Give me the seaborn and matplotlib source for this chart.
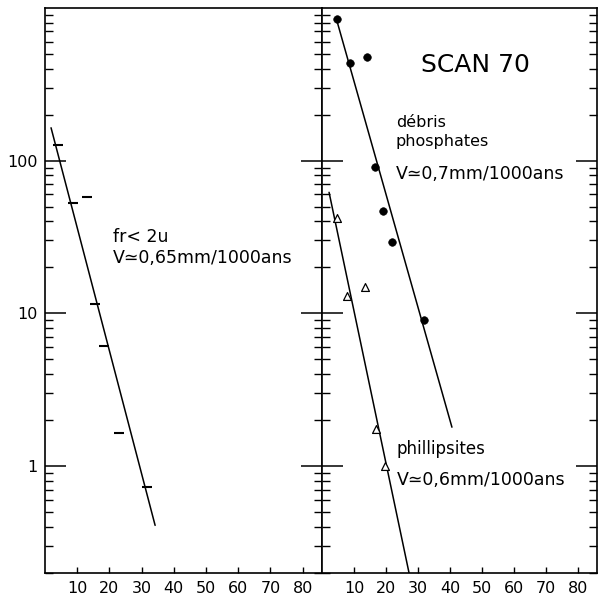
import matplotlib
matplotlib.use("Agg")
import matplotlib.pyplot as plt
import seaborn as sns
from matplotlib.ticker import FixedLocator, LogLocator, NullFormatter, NullLocator

# left panel: fraction < 2u (horizontal dashes)
fine_depth = [4.0, 8.7, 13.0, 15.5, 18.3, 23.0, 31.7]
fine_activity = [127, 53, 58, 11.6, 6.1, 1.66, 0.73]
fine_fit_depth = [1.9, 34.2]
fine_fit_activity = [164, 0.41]

# right panel: debris phosphates (filled dots)
phos_depth = [4.7, 8.7, 14.1, 16.6, 19.1, 21.9, 31.9]
phos_activity = [851, 432, 473, 91, 47, 29.4, 9.0]
phos_fit_depth = [4.7, 40.6]
phos_fit_activity = [815, 1.8]

# right panel: phillipsites (open triangles)
phil_depth = [4.7, 7.8, 13.4, 16.9, 19.7]
phil_activity = [42, 13, 14.8, 1.75, 1.0]
phil_fit_depth = [2.2, 27.2]
phil_fit_activity = [62, 0.2]

x_ticks = [10, 20, 30, 40, 50, 60, 70, 80]
y_ticks = [1, 10, 100]
y_labels = ["1", "10", "100"]

sns.set_style("ticks")
plt.rcParams["font.family"] = ["DejaVu Sans"]
plt.rcParams["text.color"] = "black"
plt.rcParams["xtick.color"] = "black"
plt.rcParams["ytick.color"] = "black"
plt.rcParams["axes.labelcolor"] = "black"

fig = plt.figure(figsize=(5.99, 6.0), dpi=100)
ax_l = fig.add_axes([0.075, 0.045, 0.4626, 0.942])
ax_r = fig.add_axes([0.5376, 0.045, 0.4594, 0.942])

for ax in (ax_l, ax_r):
    ax.set_yscale("log")
    ax.set_ylim(0.2, 1000)
    ax.set_xlim(0, 86)
    for sp in ax.spines.values():
        sp.set_visible(True)
        sp.set_linewidth(1.2)
        sp.set_color("black")
    ax.yaxis.set_major_locator(FixedLocator(y_ticks))
    ax.yaxis.set_minor_locator(LogLocator(base=10, subs=range(2, 10)))
    ax.yaxis.set_minor_formatter(NullFormatter())
    ax.set_xticks(x_ticks)
    ax.set_xticklabels([str(t) for t in x_ticks])
    ax.xaxis.set_minor_locator(NullLocator())
    ax.tick_params(axis="y", which="both", direction="in", left=True, right=True, color="black")
    ax.tick_params(axis="y", which="major", length=15, width=1.1, pad=5)
    ax.tick_params(axis="y", which="minor", length=6, width=1.0)
    ax.tick_params(axis="x", which="major", direction="in", length=4, width=1.0,
                   bottom=True, top=False, pad=6, labelsize=11.5, labelcolor="black")
    ax.tick_params(axis="y", labelsize=11.5, labelcolor="black")
    ax.set_xlabel("")
    ax.set_ylabel("")

ax_l.set_yticklabels(y_labels)
ax_r.tick_params(axis="y", which="both", labelleft=False)

# left panel
sns.lineplot(x=fine_fit_depth, y=fine_fit_activity, color="black", linewidth=1.1, ax=ax_l)
sns.scatterplot(x=fine_depth, y=fine_activity, marker="_", s=55, linewidth=1.5,
                color="black", ax=ax_l)
ax_l.text(21.0, 29.5, "fr< 2u", fontsize=12.5, va="baseline")
ax_l.text(21.0, 21.3, "V\u22430,65mm/1000ans", fontsize=12.5, va="baseline")

# right panel
sns.lineplot(x=phos_fit_depth, y=phos_fit_activity, color="black", linewidth=1.1, ax=ax_r)
sns.lineplot(x=phil_fit_depth, y=phil_fit_activity, color="black", linewidth=1.1, ax=ax_r)
sns.scatterplot(x=phos_depth, y=phos_activity, marker="o", s=30, color="black",
                edgecolor="black", ax=ax_r)
sns.scatterplot(x=phil_depth, y=phil_activity, marker="^", s=32, color="white",
                edgecolor="black", linewidth=0.9, ax=ax_r, zorder=3)
ax_r.text(30.9, 380, "SCAN 70", fontsize=18, va="baseline")
ax_r.text(23.1, 167, "débris", fontsize=11.5, va="baseline")
ax_r.text(23.1, 125, "phosphates", fontsize=11.5, va="baseline")
ax_r.text(23.1, 76, "V\u22430,7mm/1000ans", fontsize=12.5, va="baseline")
ax_r.text(23.4, 1.2, "phillipsites", fontsize=12, va="baseline")
ax_r.text(23.4, 0.75, "V\u22430,6mm/1000ans", fontsize=12.5, va="baseline")

fig.savefig("out.png", dpi=100)
